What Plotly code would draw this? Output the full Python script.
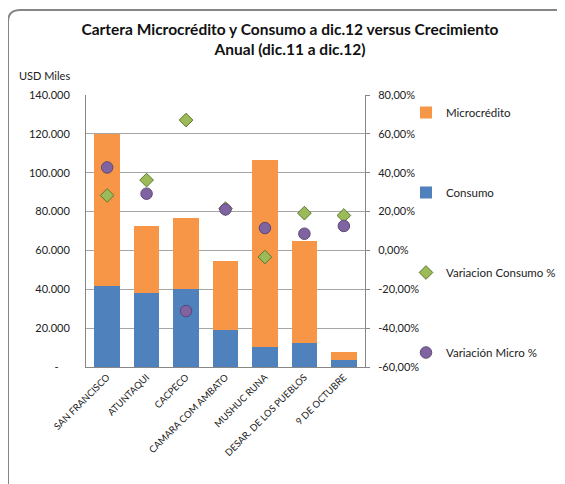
import plotly.graph_objects as go

categories = ["SAN FRANCISCO", "ATUNTAQUI", "CACPECO", "CAMARA COM AMBATO",
              "MUSHUC RUNA", "DESAR. DE LOS PUEBLOS", "9 DE OCTUBRE"]
consumo = [41700, 37900, 40100, 18800, 10300, 12300, 3800]
microcredito = [78300, 34800, 36600, 35700, 96500, 52300, 3700]
var_consumo = [28.3, 36.2, 67.1, 21.5, -3.4, 19.2, 18.0]
var_micro = [42.7, 29.2, -31.2, 21.1, 11.5, 8.6, 12.6]

left_tickvals = [0, 20000, 40000, 60000, 80000, 100000, 120000, 140000]
left_ticktext = ["-&nbsp;&nbsp;&nbsp;&nbsp;", "20.000", "40.000", "60.000", "80.000", "100.000", "120.000", "140.000"]
right_tickvals = [-60, -40, -20, 0, 20, 40, 60, 80]
right_ticktext = ["-60,00%", "-40,00%", "-20,00%", "0,00%", "20,00%", "40,00%", "60,00%", "80,00%"]

FONT = "Lato"
OFF = 8  # default body margin of the page
W, H = 565 - OFF, 484 - OFF

fig = go.Figure()
fig.add_trace(go.Bar(x=categories, y=consumo, name="Consumo",
                     marker=dict(color="#4F81BD", line=dict(width=0)),
                     legendgroup="b", legendrank=2))
fig.add_trace(go.Bar(x=categories, y=microcredito, name="Microcrédito",
                     marker=dict(color="#F79646", line=dict(width=0)),
                     legendgroup="a", legendrank=1))
fig.add_trace(go.Scatter(x=categories, y=var_consumo, name="Variacion Consumo %",
                         mode="markers", yaxis="y2",
                         marker=dict(symbol="diamond", size=10.5, color="#9BBB59",
                                     line=dict(color="#5E7530", width=1)),
                         legendgroup="c", legendrank=3))
fig.add_trace(go.Scatter(x=categories, y=var_micro, name="Variación Micro %",
                         mode="markers", yaxis="y2",
                         marker=dict(symbol="circle", size=11.5, color="#8064A2",
                                     line=dict(color="#5C4776", width=1)),
                         legendgroup="d", legendrank=4))

# plot area in page pixels: x 86..365, y 95..367
PL, PR, PT, PB = 86, 365, 95, 367

def px(x):
    return (x - PL) / (PR - PL)

def py(y):
    return (PB - y) / (PB - PT)

r = 12
x0, y0, x1 = 8, 10, 567
path = (f"M {px(x0)} {py(520)} L {px(x0)} {py(y0 + r)} "
        f"Q {px(x0)} {py(y0)} {px(x0 + r)} {py(y0)} L {px(x1 - r)} {py(y0)} "
        f"Q {px(x1)} {py(y0)} {px(x1)} {py(y0 + r)} L {px(x1)} {py(520)}")

fig.update_layout(
    width=W, height=H,
    margin=dict(l=PL - OFF, r=W - (PR - OFF), t=PT - OFF, b=H - (PB - OFF), autoexpand=False),
    paper_bgcolor="white", plot_bgcolor="white",
    barmode="stack", bargap=0.35,
    font=dict(family=FONT, size=11, color="#222222"),
    title=dict(text="<b>Cartera Microcrédito y Consumo a dic.12 versus Crecimiento<br>Anual (dic.11 a dic.12)</b>",
               x=(290 - OFF) / W, xanchor="center", y=1 - 27 / H, yanchor="middle",
               font=dict(family=FONT, size=15.5, color="#111111")),
    xaxis=dict(tickangle=-45, showline=True, linecolor="#868686", linewidth=1,
               ticks="", tickfont=dict(size=9.5), showgrid=False),
    yaxis=dict(range=[0, 140000], tickvals=left_tickvals, ticktext=left_ticktext,
               showline=True, linecolor="#868686", linewidth=1,
               gridcolor="#A6A6A6", gridwidth=1, ticks="", ticklabelstandoff=13,
               tickfont=dict(size=11), zeroline=False),
    yaxis2=dict(range=[-60, 80], tickvals=right_tickvals, ticktext=right_ticktext,
                overlaying="y", side="right", showline=True, linecolor="#868686",
                linewidth=1, ticks="outside", ticklen=4, tickcolor="#868686",
                ticklabelstandoff=6,
                showgrid=False, zeroline=False, tickfont=dict(size=11)),
    legend=dict(x=px(406), xanchor="left", y=py(98), yanchor="top",
                tracegroupgap=61, font=dict(size=11.5), itemwidth=30,
                bgcolor="rgba(0,0,0,0)"),
    showlegend=True,
    shapes=[dict(type="path", xref="x domain", yref="y domain", path=path,
                 line=dict(color="#868686", width=2), layer="above")],
    annotations=[dict(text="USD Miles", xref="paper", yref="paper",
                      x=px(17), y=py(75), xanchor="left", yanchor="middle",
                      showarrow=False, font=dict(size=11))],
)
fig.write_html("out.html")
